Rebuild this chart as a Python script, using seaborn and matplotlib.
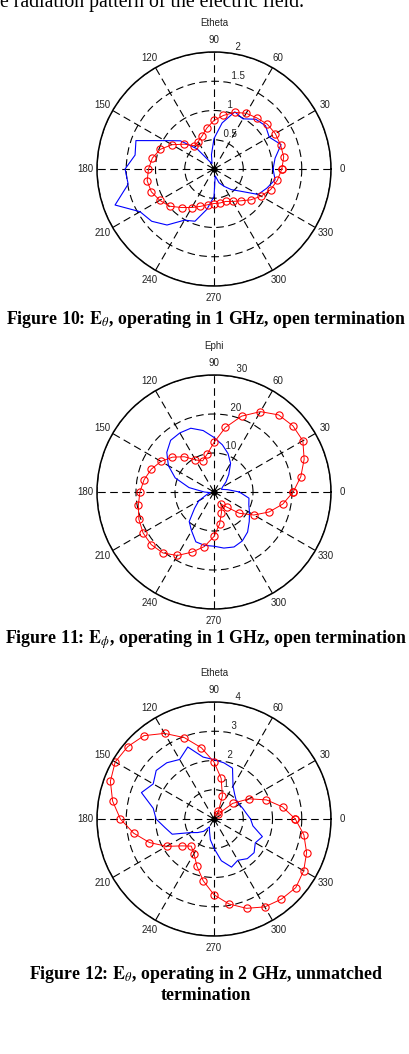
import numpy as np
import matplotlib
matplotlib.use('Agg')
import matplotlib.pyplot as plt
import seaborn as sns

# ---------------- data ----------------
angles_deg = list(range(0, 360, 10))
spoke_labels = ['0', '30', '60', '90', '120', '150', '180', '210', '240', '270', '300', '330']
spoke_deg = list(range(0, 360, 30))

# Figure 10 (Etheta, 1 GHz, open)
f10_meas = [1.16, 1.21, 1.21, 1.21, 1.19, 1.14, 1.10, 1.03, 0.93, 0.83, 0.71, 0.60,
            0.54, 0.52, 0.66, 0.83, 0.98, 1.07, 1.12, 1.16, 1.14, 1.07, 0.99, 0.86,
            0.76, 0.68, 0.62, 0.59, 0.59, 0.59, 0.64, 0.71, 0.82, 0.93, 1.03, 1.10]
f10_sim = [1.01, 1.06, 1.22, 1.09, 1.15, 1.11, 0.99, 1.04, 0.80, 0.52, 0.25, 0.10,
           0.15, 0.45, 0.75, 0.97, 1.42, 1.37, 1.52, 1.49, 1.80, 1.46, 1.39, 1.25,
           1.01, 0.95, 0.70, 0.47, 0.12, 0.25, 0.34, 0.46, 0.59, 0.87, 0.96, 1.06]
f10_rticks = [0.5, 1, 1.5, 2]
f10_rlabels = ['0.5', '1', '1.5', '2']

# Figure 11 (Ephi, 1 GHz, open)
f11_meas = [20.3, 22.6, 24.6, 26.3, 26.4, 25.8, 23.8, 20.7, 16.8, 12.7, 9.9, 8.5,
            9.5, 11.8, 13.9, 15.7, 17.1, 18.2, 19.0, 19.7, 20.5, 21.0, 21.0, 20.4,
            18.8, 16.4, 14.2, 11.4, 8.3, 5.6, 3.6, 5.0, 8.5, 11.8, 15.0, 17.9]
f11_sim = [6.5, 3.5, 2.0, 2.5, 4.0, 5.9, 8.5, 10.5, 12.3, 14.0, 16.0, 17.4,
           17.5, 17.3, 15.8, 13.5, 10.6, 6.5, 2.5, 1.0, 2.0, 4.5, 6.5, 9.9,
           11.5, 13.6, 13.9, 13.9, 14.6, 15.0, 14.5, 13.4, 11.8, 10.5, 9.5, 9.1]
f11_rticks = [10, 20, 30]
f11_rlabels = ['10', '20', '30']

# Figure 12 (Etheta, 2 GHz, unmatched)
f12_meas = [2.78, 2.38, 1.91, 1.38, 0.83, 0.22, 0.30, 0.84, 1.41, 1.95, 2.47, 2.96,
            3.38, 3.72, 3.85, 3.90, 3.77, 3.52, 3.20, 2.79, 2.35, 1.87, 1.43, 1.21,
            1.37, 1.71, 2.14, 2.59, 2.95, 3.25, 3.47, 3.58, 3.65, 3.54, 3.37, 3.12]
f12_sim = [1.25, 1.12, 1.05, 1.00, 0.99, 1.10, 1.30, 1.85, 1.95, 2.03, 2.15, 2.62,
           2.35, 2.51, 2.58, 2.40, 2.64, 2.11, 1.98, 1.70, 1.52, 0.93, 0.72, 0.55,
           0.31, 0.45, 0.72, 1.00, 1.45, 1.75, 1.63, 1.77, 1.79, 1.63, 1.76, 1.35]
f12_rticks = [1, 2, 3, 4]
f12_rlabels = ['1', '2', '3', '4']

titles = ['Etheta', 'Ephi', 'Etheta']
captions = [r'Figure 10: $\mathbf{E}_{\theta}$, operating in 1 GHz, open termination',
            r'Figure 11: $\mathbf{E}_{\phi}$, operating in 1 GHz, open termination',
            'Figure 12: $\\mathbf{E}_{\\theta}$, operating in 2 GHz, unmatched\ntermination']
top_text = 'e radiation pattern of the electric field.'

# ---------------- style ----------------
plt.rcParams['lines.scale_dashes'] = False
plt.rcParams['mathtext.fontset'] = 'stix'
plt.rcParams['font.family'] = ['Liberation Sans', 'DejaVu Sans']

W, H = 410, 1054
fig = plt.figure(figsize=(W / 100, H / 100), dpi=100)
fig.patch.set_facecolor('white')

R = 117
panels = [
    dict(cy=169, meas=f10_meas, sim=f10_sim, rt=f10_rticks, rl=f10_rlabels),
    dict(cy=492, meas=f11_meas, sim=f11_sim, rt=f11_rticks, rl=f11_rlabels),
    dict(cy=819, meas=f12_meas, sim=f12_sim, rt=f12_rticks, rl=f12_rlabels),
]
cx = 214
dash = (0, (5.5, 3.2))

for i, p in enumerate(panels):
    cy = p['cy']
    ax = fig.add_axes([(cx - R) / W, 1 - (cy + R) / H, 2 * R / W, 2 * R / H],
                      projection='polar')
    rmax = p['rt'][-1]
    rinc = p['rt'][0]
    th = np.deg2rad(angles_deg + [360])
    sim = p['sim'] + [p['sim'][0]]
    meas = p['meas'] + [p['meas'][0]]
    sns.lineplot(x=th, y=sim, ax=ax, sort=False, estimator=None,
                 color='#0000ff', linewidth=0.8)
    sns.lineplot(x=th, y=meas, ax=ax, sort=False, estimator=None,
                 color='#ff0000', linewidth=0.7, marker='o', markersize=5.2,
                 markerfacecolor='none', markeredgecolor='#ff0000',
                 markeredgewidth=0.8)
    ax.plot([0], [0], 'o', color='k', ms=3.5, zorder=5)
    ax.set_ylim(0, rmax)
    ax.set_xticks(np.deg2rad(spoke_deg))
    ax.set_yticks(p['rt'])
    ax.set_xticklabels([])
    ax.set_yticklabels([])
    ax.set_xlabel('')
    ax.set_ylabel('')
    ax.grid(True, color='k', linewidth=0.8, linestyle=dash)
    ax.spines['polar'].set_linewidth(1.1)
    ax.set_facecolor('white')
    for lab, d in zip(spoke_labels, spoke_deg):
        ax.text(np.deg2rad(d), 1.1 * rmax, lab, ha='center', va='center',
                fontsize=7, color='#222222', clip_on=False)
    for r, lab in zip(p['rt'], p['rl']):
        ax.text(np.deg2rad(82), r + rinc / 20, '  ' + lab, ha='left', va='bottom',
                fontsize=7, color='#222222', clip_on=False)
    fig.text(cx / W, 1 - (cy - 146) / H, titles[i], ha='center', va='center',
             fontsize=7, color='#222222')

# captions
cap_y = [319, 640, 984]
for c, y in zip(captions, cap_y):
    fig.text(206 / W, 1 - y / H, c, ha='center', va='center', fontsize=12.9,
             fontweight='bold', family='Liberation Serif', linespacing=1.08)

fig.text(0, 1 - 7.5 / H, top_text, ha='left', va='baseline', fontsize=14.2,
         family='Liberation Serif')

fig.savefig('out.png', dpi=100, facecolor='white')
